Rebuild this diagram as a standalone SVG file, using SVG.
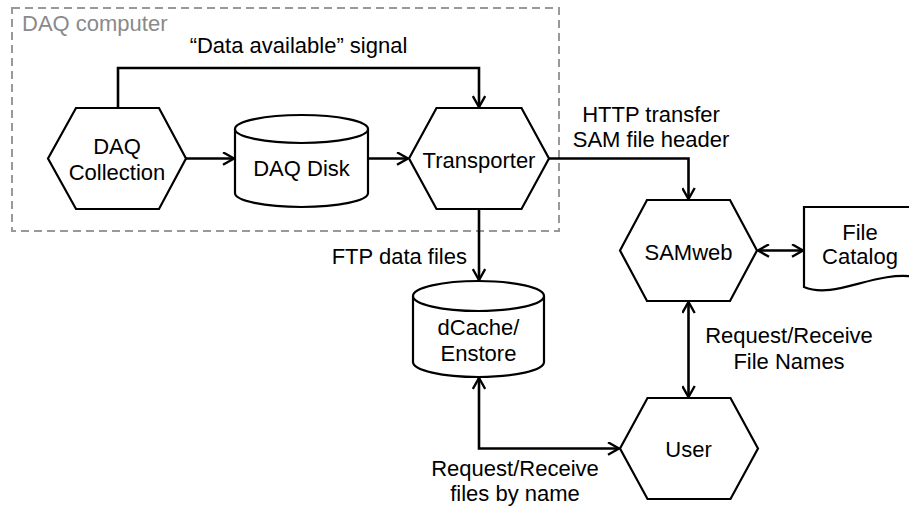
<svg xmlns="http://www.w3.org/2000/svg" width="909" height="508" viewBox="0 0 909 508">
<style>
  text { font-family: "Liberation Sans", Arial, Helvetica, sans-serif; font-size: 22px; fill: #000; }
  .c { text-anchor: middle; }
  .shape { fill: #fff; stroke: #000; stroke-width: 2.2; stroke-linejoin: miter; }
  .conn { fill: none; stroke: #000; stroke-width: 2.6; }
  .box { fill: none; stroke: #999; stroke-width: 2; stroke-dasharray: 8 5; }
  .gray { fill: #8a8a8a; }
</style>
<defs>
  <marker id="arr" viewBox="0 0 14 14" refX="12" refY="7" markerWidth="14" markerHeight="14" markerUnits="userSpaceOnUse" orient="auto-start-reverse">
    <path d="M1,0.8 L12,7 L1,13.2" fill="none" stroke="#000" stroke-width="2.4"/>
  </marker>
</defs>

<g id="daq-computer">
  <rect class="box" x="12" y="8" width="547" height="223"/>
  <text class="gray" x="22" y="31">DAQ computer</text>
</g>

<g id="connectors">
  <path class="conn" d="M118,108 L118,68 L479,68 L479,107" marker-end="url(#arr)"/>
  <path class="conn" d="M186,158.5 L234,158.5" marker-end="url(#arr)"/>
  <path class="conn" d="M368,158.5 L408,158.5" marker-end="url(#arr)"/>
  <path class="conn" d="M549,158.5 L688.5,158.5 L688.5,199" marker-end="url(#arr)"/>
  <path class="conn" d="M479,209 L479,280" marker-end="url(#arr)"/>
  <path class="conn" d="M758,250.5 L803,250.5" marker-start="url(#arr)" marker-end="url(#arr)"/>
  <path class="conn" d="M688.5,302 L688.5,397" marker-start="url(#arr)" marker-end="url(#arr)"/>
  <path class="conn" d="M479,378 L479,448.5 L619,448.5" marker-start="url(#arr)" marker-end="url(#arr)"/>
  <text class="c" x="298.5" y="53">“Data available” signal</text>
  <text class="c" x="651" y="122">HTTP transfer</text>
  <text class="c" x="651" y="147">SAM file header</text>
  <text x="467" y="264" text-anchor="end">FTP data files</text>
  <text class="c" x="789" y="343">Request/Receive</text>
  <text class="c" x="789" y="369">File Names</text>
  <text class="c" x="515" y="476">Request/Receive</text>
  <text class="c" x="515" y="501">files by name</text>
</g>

<g id="daq-collection">
  <polygon class="shape" points="48,158.5 76,108 159,108 186,158.5 159,209 76,209"/>
  <text class="c" x="117" y="154">DAQ</text>
  <text class="c" x="117" y="180">Collection</text>
</g>

<g id="daq-disk">
  <path class="shape" d="M235,129 A66.5,14 0 0,1 368,129 L368,193 A66.5,14 0 0,1 235,193 Z"/>
  <path class="shape" fill="none" d="M235,129 A66.5,14 0 0,0 368,129"/>
  <text class="c" x="301.5" y="176">DAQ Disk</text>
</g>

<g id="transporter">
  <polygon class="shape" points="409,158.5 436.5,108 521.5,108 549,158.5 521.5,209 436.5,209"/>
  <text class="c" x="479" y="168">Transporter</text>
</g>

<g id="samweb">
  <polygon class="shape" points="620,250.5 647,200 730,200 757,250.5 730,301 647,301"/>
  <text class="c" x="688.5" y="260">SAMweb</text>
</g>

<g id="file-catalog">
  <path class="shape" d="M804,207 L916,207 L916,277 C875,270 835,300 804,287 Z"/>
  <text class="c" x="860" y="240">File</text>
  <text class="c" x="860" y="264">Catalog</text>
</g>

<g id="dcache">
  <path class="shape" d="M413,296 A65.5,15 0 0,1 544,296 L544,362 A65.5,15 0 0,1 413,362 Z"/>
  <path class="shape" fill="none" d="M413,296 A65.5,15 0 0,0 544,296"/>
  <text class="c" x="478.5" y="335">dCache/</text>
  <text class="c" x="478.5" y="361">Enstore</text>
</g>

<g id="user">
  <polygon class="shape" points="620,448.5 647.5,398 730.5,398 758,448.5 730.5,499 647.5,499"/>
  <text class="c" x="688.5" y="457">User</text>
</g>
</svg>
